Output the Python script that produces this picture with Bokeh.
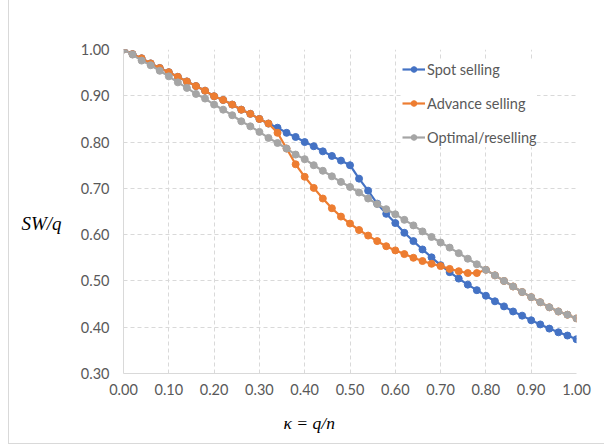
from bokeh.plotting import figure
from bokeh.models import (Range1d, FixedTicker, NumeralTickFormatter, LinearAxis,
                          CustomJSTickFormatter, ColumnDataSource)
from bokeh.embed import file_html
from bokeh.resources import INLINE

kappa = [0.00, 0.02, 0.04, 0.06, 0.08, 0.10, 0.12, 0.14, 0.16, 0.18,
         0.20, 0.22, 0.24, 0.26, 0.28, 0.30, 0.32, 0.34, 0.36, 0.38,
         0.40, 0.42, 0.44, 0.46, 0.48, 0.50, 0.52, 0.54, 0.56, 0.58,
         0.60, 0.62, 0.64, 0.66, 0.68, 0.70, 0.72, 0.74, 0.76, 0.78,
         0.80, 0.82, 0.84, 0.86, 0.88, 0.90, 0.92, 0.94, 0.96, 0.98, 1.00]

spot_selling = [1.000, 0.990, 0.981, 0.970, 0.960, 0.951, 0.941, 0.931, 0.921, 0.911,
                0.899, 0.891, 0.881, 0.870, 0.861, 0.850, 0.840, 0.831, 0.820, 0.811,
                0.800, 0.791, 0.780, 0.770, 0.760, 0.750, 0.721, 0.695, 0.667, 0.645,
                0.625, 0.604, 0.586, 0.568, 0.551, 0.534, 0.519, 0.505, 0.492, 0.480,
                0.468, 0.456, 0.445, 0.434, 0.425, 0.415, 0.406, 0.397, 0.389, 0.382, 0.374]

advance_selling = [1.000, 0.990, 0.981, 0.970, 0.960, 0.951, 0.941, 0.931, 0.921, 0.911,
                   0.899, 0.891, 0.881, 0.870, 0.861, 0.850, 0.840, 0.820, 0.786, 0.752,
                   0.725, 0.701, 0.678, 0.657, 0.639, 0.624, 0.610, 0.598, 0.586, 0.575,
                   0.566, 0.558, 0.550, 0.543, 0.537, 0.532, 0.526, 0.521, 0.517, 0.517,
                   0.524, 0.512, 0.500, 0.488, 0.476, 0.465, 0.454, 0.443, 0.434, 0.427, 0.419]

optimal_reselling = [1.000, 0.989, 0.976, 0.966, 0.954, 0.942, 0.929, 0.917, 0.904, 0.894,
                     0.881, 0.870, 0.858, 0.845, 0.834, 0.822, 0.809, 0.798, 0.786, 0.773,
                     0.763, 0.750, 0.738, 0.726, 0.714, 0.703, 0.691, 0.678, 0.666, 0.655,
                     0.644, 0.632, 0.620, 0.607, 0.595, 0.583, 0.572, 0.560, 0.548, 0.536,
                     0.524, 0.512, 0.500, 0.488, 0.476, 0.465, 0.454, 0.443, 0.434, 0.427, 0.419]

x_ticks = [0.0, 0.1, 0.2, 0.3, 0.4, 0.5, 0.6, 0.7, 0.8, 0.9, 1.0]
y_ticks = [0.3, 0.4, 0.5, 0.6, 0.7, 0.8, 0.9, 1.0]

x_title = "κ = q/n"
y_title = "SW/q"

series = [("Spot selling", spot_selling, "#4472C4"),
          ("Advance selling", advance_selling, "#ED7D31"),
          ("Optimal/reselling", optimal_reselling, "#A5A5A5")]

TICK_FONT = "Lato"
TEXT_COL = "#595959"
GRID_COL = "#d9d9d9"

p = figure(width=596, height=444, output_backend="svg", toolbar_location=None,
           x_range=Range1d(0, 1), y_range=Range1d(0.3, 1.0),
           min_border_left=114, min_border_right=29, min_border_top=49,
           min_border_bottom=71)
p.styles = {"margin-left": "8px",
            "border-left": "1px solid #d9d9d9",
            "border-bottom": "1px solid #d9d9d9"}
p.outline_line_color = None
p.background_fill_color = "white"
p.border_fill_color = "white"

for name, vals, col in series:
    src = ColumnDataSource(dict(x=kappa, y=vals))
    p.line("x", "y", source=src, line_color=col, line_width=2.2, legend_label=name)
    p.scatter("x", "y", source=src, size=7, fill_color=col, line_color=col,
              legend_label=name)


def strip(ax):
    ax.major_tick_line_color = None
    ax.minor_tick_line_color = None
    ax.major_tick_in = 0
    ax.major_tick_out = 0
    ax.minor_tick_in = 0
    ax.minor_tick_out = 0


for ax, ticks in ((p.xaxis[0], x_ticks), (p.yaxis[0], y_ticks)):
    ax.ticker = FixedTicker(ticks=ticks)
    ax.formatter = NumeralTickFormatter(format="0.00")
    strip(ax)
    ax.axis_line_color = GRID_COL
    ax.axis_line_width = 1
    ax.major_label_text_font = TICK_FONT
    ax.major_label_text_font_size = "14.5px"
    ax.major_label_text_color = TEXT_COL

p.xaxis[0].major_label_standoff = 10
p.yaxis[0].major_label_standoff = 14

# axis titles drawn as single-tick extra axes (positioned like the original)
xt = LinearAxis(ticker=FixedTicker(ticks=[0.41]),
                formatter=CustomJSTickFormatter(code="return '%s'" % x_title))
yt = LinearAxis(ticker=FixedTicker(ticks=[0.6235]),
                formatter=CustomJSTickFormatter(code="return '%s'" % y_title))
for ax in (xt, yt):
    strip(ax)
    ax.axis_line_color = None
    ax.major_label_text_font = "Liberation Serif"
    ax.major_label_text_font_style = "italic"
    ax.major_label_text_color = "black"
xt.major_label_text_font_size = "17.5px"
yt.major_label_text_font_size = "19px"
xt.major_label_standoff = 15
yt.major_label_standoff = 16
p.add_layout(xt, "below")
p.add_layout(yt, "left")

for g in (p.xgrid[0], p.ygrid[0]):
    g.grid_line_color = GRID_COL
    g.grid_line_dash = "4 3"
    g.grid_line_width = 1
p.xgrid[0].ticker = FixedTicker(ticks=x_ticks)
p.ygrid[0].ticker = FixedTicker(ticks=y_ticks)

leg = p.legend[0]
leg.location = (279, 226)
leg.background_fill_color = "white"
leg.background_fill_alpha = 1.0
leg.border_line_color = None
leg.padding = 5
leg.margin = 0
leg.spacing = 14
leg.glyph_width = 23
leg.glyph_height = 14
leg.label_height = 20
leg.label_standoff = 2
leg.label_text_font = TICK_FONT
leg.label_text_font_size = "14.5px"
leg.label_text_color = TEXT_COL

open("out.html", "w").write(file_html(p, INLINE))
